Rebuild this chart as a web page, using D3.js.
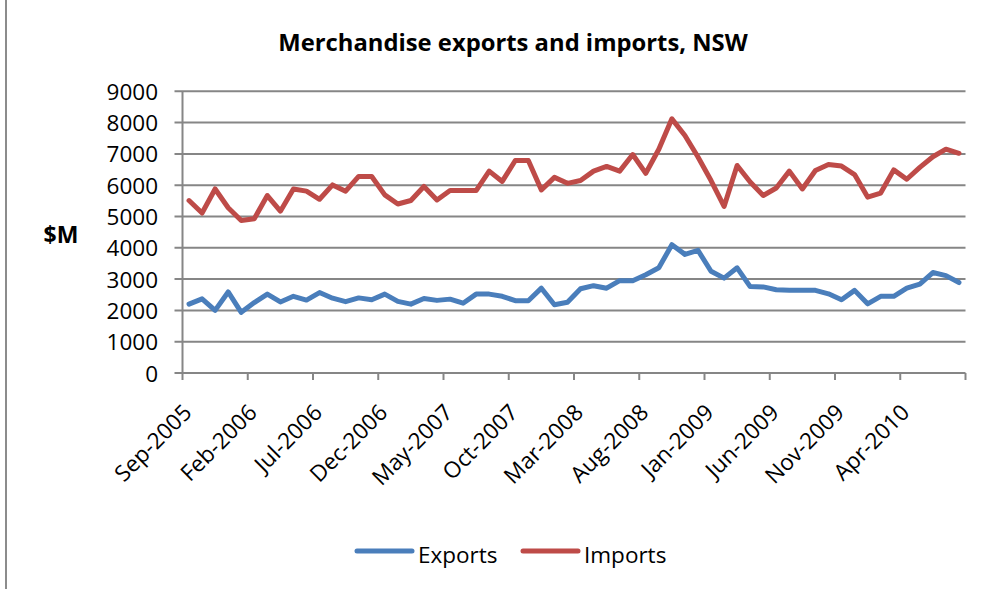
<!DOCTYPE html>
<html>
<head>
<meta charset="utf-8">
<script src="https://cdn.jsdelivr.net/npm/d3@7"></script>
<style>
  html, body { margin: 0; padding: 0; background: #fff; }
  svg { display: block; }
  text { font-family: "Open Sans", "DejaVu Sans", sans-serif; fill: #000; }
</style>
</head>
<body>
<svg id="chart" width="1000" height="589"></svg>
<script>
// Monthly categories, Sep-2005 to Aug-2010
const months = [
  "Sep-2005","Oct-2005","Nov-2005","Dec-2005","Jan-2006","Feb-2006","Mar-2006","Apr-2006","May-2006","Jun-2006",
  "Jul-2006","Aug-2006","Sep-2006","Oct-2006","Nov-2006","Dec-2006","Jan-2007","Feb-2007","Mar-2007","Apr-2007",
  "May-2007","Jun-2007","Jul-2007","Aug-2007","Sep-2007","Oct-2007","Nov-2007","Dec-2007","Jan-2008","Feb-2008",
  "Mar-2008","Apr-2008","May-2008","Jun-2008","Jul-2008","Aug-2008","Sep-2008","Oct-2008","Nov-2008","Dec-2008",
  "Jan-2009","Feb-2009","Mar-2009","Apr-2009","May-2009","Jun-2009","Jul-2009","Aug-2009","Sep-2009","Oct-2009",
  "Nov-2009","Dec-2009","Jan-2010","Feb-2010","Mar-2010","Apr-2010","May-2010","Jun-2010","Jul-2010","Aug-2010"
];

// Exports, $M
const exportsM = [
  2200, 2370, 2000, 2590, 1940, 2250, 2520, 2270, 2450, 2330,
  2570, 2390, 2280, 2400, 2340, 2520, 2290, 2200, 2380, 2320,
  2360, 2230, 2520, 2520, 2450, 2310, 2310, 2710, 2180, 2260,
  2690, 2790, 2710, 2950, 2950, 3140, 3360, 4100, 3790, 3920,
  3250, 3030, 3360, 2760, 2750, 2660, 2640, 2640, 2640, 2530,
  2340, 2640, 2210, 2450, 2450, 2710, 2840, 3210, 3110, 2890
];

// Imports, $M
const importsM = [
  5510, 5110, 5880, 5280, 4870, 4930, 5670, 5170, 5880, 5810,
  5550, 6010, 5810, 6280, 6280, 5690, 5400, 5510, 5960, 5530,
  5830, 5830, 5830, 6450, 6120, 6790, 6790, 5850, 6250, 6060,
  6150, 6450, 6600, 6450, 6980, 6380, 7150, 8120, 7590, 6900,
  6150, 5320, 6630, 6100, 5670, 5910, 6450, 5880, 6470, 6660,
  6610, 6340, 5620, 5750, 6490, 6190, 6570, 6910, 7150, 7020
];

const yTicks = [0, 1000, 2000, 3000, 4000, 5000, 6000, 7000, 8000, 9000];
const xTickLabels = ["Sep-2005","Feb-2006","Jul-2006","Dec-2006","May-2007","Oct-2007",
                     "Mar-2008","Aug-2008","Jan-2009","Jun-2009","Nov-2009","Apr-2010"];

const seriesList = [
  { name: "Exports", values: exportsM, color: "#4A7EBB" },
  { name: "Imports", values: importsM, color: "#BE4B48" }
];

const svg = d3.select("#chart");
const plot = { left: 182.5, right: 965.5, top: 91.3, bottom: 373 };
const gridColor = "#868686";
const labelSize = 22.5;

// Outer frame edge on the left
svg.append("line")
  .attr("x1", 6).attr("x2", 6).attr("y1", 0).attr("y2", 589)
  .attr("stroke", "#8c8c8c").attr("stroke-width", 2);

const x = d3.scaleBand().domain(months).range([plot.left, plot.right]).padding(0);
const y = d3.scaleLinear().domain([0, 9000]).range([plot.bottom, plot.top]);

// Horizontal gridlines with outside tick stubs
svg.append("g").selectAll("line").data(yTicks).join("line")
  .attr("x1", plot.left - 8).attr("x2", plot.right)
  .attr("y1", d => y(d)).attr("y2", d => y(d))
  .attr("stroke", gridColor).attr("stroke-width", 2);

// Y axis line
svg.append("line")
  .attr("x1", plot.left).attr("x2", plot.left)
  .attr("y1", plot.top).attr("y2", plot.bottom)
  .attr("stroke", gridColor).attr("stroke-width", 2);

// Y tick labels
svg.append("g").selectAll("text").data(yTicks).join("text")
  .attr("x", 158).attr("y", d => y(d) + 8.5)
  .attr("text-anchor", "end")
  .style("font-size", labelSize + "px")
  .text(d => d);

// X axis ticks at every fifth category boundary
const boundaryIdx = d3.range(0, months.length + 1, 5);
svg.append("g").selectAll("line").data(boundaryIdx).join("line")
  .attr("x1", i => i < months.length ? x(months[i]) : plot.right)
  .attr("x2", i => i < months.length ? x(months[i]) : plot.right)
  .attr("y1", plot.bottom).attr("y2", plot.bottom + 7)
  .attr("stroke", gridColor).attr("stroke-width", 2);

// X tick labels, rotated
svg.append("g").selectAll("text").data(xTickLabels).join("text")
  .attr("text-anchor", "end")
  .attr("transform", d => `translate(${x(d) + x.bandwidth() / 2 + 4},${plot.bottom + 41}) rotate(-45)`)
  .style("font-size", labelSize + "px")
  .text(d => d);

// Series lines
const line = d3.line()
  .x((d, i) => x(months[i]) + x.bandwidth() / 2)
  .y(d => y(d));

svg.append("g").selectAll("path").data(seriesList).join("path")
  .attr("d", s => line(s.values))
  .attr("fill", "none")
  .attr("stroke", s => s.color)
  .attr("stroke-width", 5)
  .attr("stroke-linejoin", "round")
  .attr("stroke-linecap", "round");

// Title
svg.append("text")
  .attr("x", 513).attr("y", 51)
  .attr("text-anchor", "middle")
  .style("font-size", "23.8px").style("font-weight", "bold")
  .text("Merchandise exports and imports, NSW");

// Y axis unit label
svg.append("text")
  .attr("x", 61).attr("y", 243)
  .attr("text-anchor", "middle")
  .style("font-size", "23px").style("font-weight", "bold")
  .text("$M");

// Legend
const legendItems = [
  { s: seriesList[0], x: 357 },
  { s: seriesList[1], x: 523 }
];
const lg = svg.append("g").selectAll("g").data(legendItems).join("g")
  .attr("transform", d => `translate(${d.x},551)`);
lg.append("line")
  .attr("x1", 0).attr("x2", 55).attr("y1", 0).attr("y2", 0)
  .attr("stroke", d => d.s.color).attr("stroke-width", 5)
  .attr("stroke-linecap", "round");
lg.append("text")
  .attr("x", 61).attr("y", 12)
  .style("font-size", labelSize + "px")
  .text(d => d.s.name);
</script>
</body>
</html>
